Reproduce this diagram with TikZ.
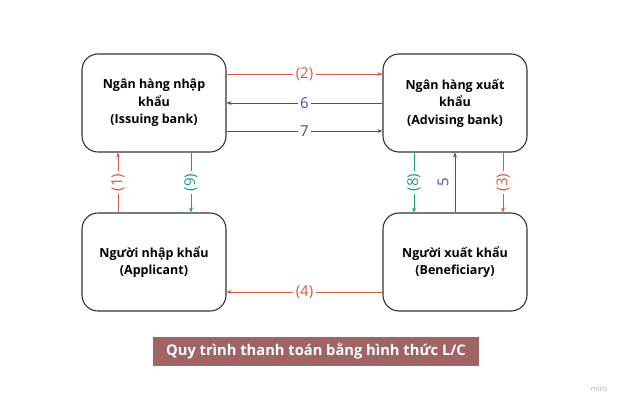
\documentclass[tikz,border=0pt]{standalone}
\usepackage{fontspec}
\setmainfont{Open Sans}
\usepackage{xcolor}
\usetikzlibrary{arrows.meta,positioning}
\definecolor{lcred}{HTML}{D65A40}
\definecolor{lcpurple}{HTML}{5B43A6}
\definecolor{lcteal}{HTML}{1C9E80}
\definecolor{lctitle}{HTML}{A06466}

\begin{document}
\begin{tikzpicture}[
        x=1pt, y=-1pt,
        party/.style={draw=black!80, line width=1.1pt, rounded corners=16pt, align=center,
            minimum width=144pt, minimum height=98pt, font=\bfseries\fontsize{12.5}{17.5}\selectfont},
        flow/.style={-{Stealth[length=5pt,width=4pt]}, line width=0.7pt},
        lbl/.style={fill=white, inner sep=2.5pt, font=\fontsize{15}{17}\selectfont}
    ]
        \useasboundingbox (0,0) rectangle (624,406);
        \node[party] (issuing) at (154,103) {Ngân hàng nhập\\khẩu\\(Issuing bank)};
        \node[party] (advising) at (455,103) {Ngân hàng xuất\\khẩu\\(Advising bank)};
        \node[party] (applicant) at (154,262) {Người nhập khẩu\\(Applicant)};
        \node[party] (beneficiary) at (455,262) {Người xuất khẩu\\(Beneficiary)};
        % bank to bank
        \draw[flow, lcred] ([yshift=29pt]issuing.east) -- node[lbl, text=lcred]{(2)} ([yshift=29pt]advising.west);
        \draw[flow, lcpurple] (advising.west) -- node[lbl, text=lcpurple]{6} (issuing.east);
        \draw[flow, lcpurple] ([yshift=-28pt]issuing.east) -- node[lbl, text=lcpurple]{7} ([yshift=-28pt]advising.west);
        % importer side
        \draw[flow, lcred] ([xshift=-36pt]applicant.north) -- node[lbl, rotate=90, text=lcred]{(1)} ([xshift=-36pt]issuing.south);
        \draw[flow, lcteal] ([xshift=37pt]issuing.south) -- node[lbl, rotate=90, text=lcteal]{(9)} ([xshift=37pt]applicant.north);
        % exporter side
        \draw[flow, lcteal] ([xshift=-41pt]advising.south) -- node[lbl, rotate=90, text=lcteal]{(8)} ([xshift=-41pt]beneficiary.north);
        \draw[flow, lcpurple] (beneficiary.north) -- node[xshift=-12pt, rotate=90, text=lcpurple, font=\fontsize{15}{17}\selectfont]{5} (advising.south);
        \draw[flow, lcred] ([xshift=48pt]advising.south) -- node[lbl, rotate=90, text=lcred]{(3)} ([xshift=48pt]beneficiary.north);
        % exporter to importer
        \draw[flow, lcred] ([yshift=-30pt]beneficiary.west) -- node[lbl, text=lcred]{(4)} ([yshift=-30pt]applicant.east);
        \node[fill=lctitle, text=white, minimum width=326pt, minimum height=29pt,
            font=\bfseries\fontsize{14.7}{16}\selectfont] (title) at (316,351.5) {Quy trình thanh toán bằng hình thức L/C};
        \node[text=black!30, font=\fontsize{7.5}{8}\selectfont] (miro) at (599,389) {miro};
    \end{tikzpicture}
\end{document}
